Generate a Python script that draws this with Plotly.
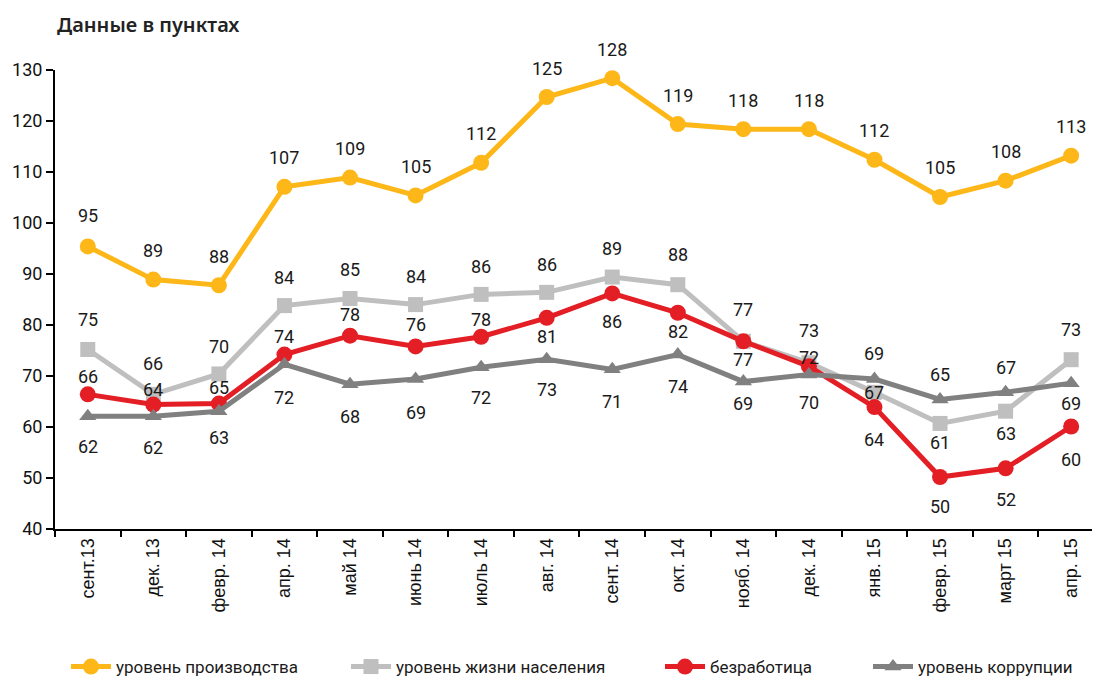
import plotly.graph_objects as go

categories = ["сент.13", "дек. 13", "февр. 14", "апр. 14", "май 14", "июнь 14", "июль 14",
              "авг. 14", "сент. 14", "окт. 14", "нояб. 14", "дек. 14", "янв. 15", "февр. 15",
              "март 15", "апр. 15"]

production = [95.4, 88.9, 87.8, 107.1, 108.9, 105.4, 111.8, 124.7, 128.4, 119.4, 118.4, 118.4,
              112.4, 105.1, 108.3, 113.2]
living = [75.2, 66.4, 70.4, 83.8, 85.2, 84.0, 86.0, 86.4, 89.4, 87.9, 76.8, 72.6, 66.8, 60.7,
          63.1, 73.2]
unemployment = [66.4, 64.4, 64.6, 74.2, 77.9, 75.8, 77.7, 81.4, 86.2, 82.4, 76.8, 71.9, 63.9,
                50.2, 51.9, 60.1]
corruption = [62.1, 62.1, 63.1, 72.3, 68.4, 69.4, 71.7, 73.3, 71.3, 74.2, 68.9, 70.3, 69.4, 65.4,
              66.8, 68.6]

names = ["уровень производства", "уровень жизни населения", "безработица", "уровень коррупции"]

# label offsets in px (positive = above the point)
shift_prod = [31, 29, 29, 29, 29, 29, 29, 29, 29, 29, 29, 29, 29, 29, 29, 29]
shift_living = [30, 31, 27, 28, 29, 28, 28, 28, 29, 30, 32, 32, 0, -19, -22, 30]
shift_unemp = [18, 15, 16, 18, 21, 22, 17, -19, -28, -19, -18, 9, -32, -30, -31, -33]
shift_corr = [-30, -31, -26, -33, -32, -33, -30, -30, -32, -32, -22, -28, 26, 25, 25, -20]

colors = ["#FDB718", "#BFBFBF", "#E31E25", "#808080"]
symbols = ["circle", "square", "circle", "triangle-up"]
msizes = [16, 15, 16, 15]

FONT = "Roboto, sans-serif"

fig = go.Figure()
series = [production, living, unemployment, corruption]
shifts = [shift_prod, shift_living, shift_unemp, shift_corr]
legends = ["legend", "legend2", "legend3", "legend4"]

for i, vals in enumerate(series):
    fig.add_trace(go.Scatter(
        x=categories, y=vals, name=names[i], mode="lines+markers",
        line=dict(color=colors[i], width=5),
        marker=dict(color=colors[i], symbol=symbols[i], size=msizes[i]),
        legend=legends[i], showlegend=True, hoverinfo="x+y",
    ))

def rnd(v):
    return int(v + 0.5)

annotations = []
for i, vals in enumerate(series):
    for j, v in enumerate(vals):
        annotations.append(dict(
            x=categories[j], y=v, xref="x", yref="y", text=str(rnd(v)), showarrow=False,
            yshift=shifts[i][j], font=dict(family=FONT, size=18, color="#1a1a1a"),
        ))

W, H = 1092, 669  # page body adds an 8px offset
L, R, T, B = 47, 0, 62, 148

leg_common = dict(orientation="h", yanchor="middle", xanchor="left", xref="container",
                  yref="container", y=1 - 659 / H,
                  font=dict(family=FONT, size=17, color="#1a1a1a"), bgcolor="rgba(0,0,0,0)",
                  itemwidth=40)

fig.update_layout(
    template="none",
    width=W, height=H, showlegend=True,
    margin=dict(l=L, r=R, t=T, b=B, autoexpand=False),
    paper_bgcolor="white", plot_bgcolor="white",
    title=dict(text="Данные в пунктах", x=49 / W, xref="container",
               y=1 - 17 / H, yref="container", xanchor="left", yanchor="middle",
               font=dict(family="Noto Sans, sans-serif", size=20, weight=600, color="#222")),
    xaxis=dict(type="category", range=[-0.5, 15.44], tickson="boundaries", ticks="outside",
               ticklen=6, tickwidth=1.5, tickcolor="black", showline=True, linecolor="black",
               linewidth=2, tickangle=-90, showgrid=False, zeroline=False, automargin=False,
               tickfont=dict(family="Liberation Sans, Arial, sans-serif", size=18, color="#111")),
    yaxis=dict(range=[40, 130], dtick=10, ticks="outside", ticklen=7, tickwidth=1.5,
               tickcolor="black", showline=True, linecolor="black", linewidth=2,
               showgrid=False, zeroline=False, automargin=False,
               tickfont=dict(family=FONT, size=18, color="#111")),
    annotations=annotations,
    legend=dict(leg_common, x=58 / W),
    legend2=dict(leg_common, x=338 / W),
    legend3=dict(leg_common, x=652 / W),
    legend4=dict(leg_common, x=860 / W),
)

fig.write_html("out.html")
